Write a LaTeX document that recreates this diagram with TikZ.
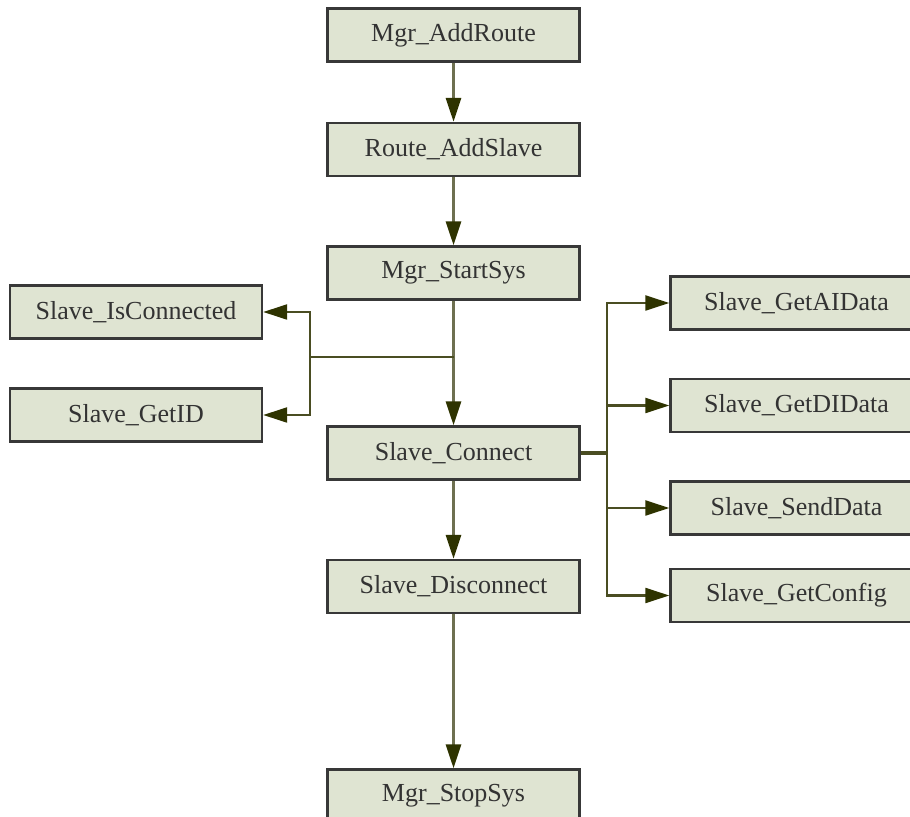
\documentclass[tikz,border=0pt]{standalone}
\usepackage{fontspec}
\setmainfont{Liberation Serif}
\usetikzlibrary{arrows.meta}
\definecolor{boxfill}{HTML}{DFE4D2}
\definecolor{boxline}{HTML}{383838}
\definecolor{linkline}{HTML}{6E7050}
\definecolor{tipcol}{HTML}{2E3300}
\definecolor{branchline}{HTML}{4A4D22}
\begin{document}
\begin{tikzpicture}[x=0.5pt,y=-0.5pt,
  func/.style={draw=boxline, fill=boxfill, line width=1.2pt, minimum width=126pt, minimum height=26.5pt,
    inner sep=0pt, font=\fontsize{13}{15}\selectfont, text=black!80},
  link/.style={draw=linkline, line width=1.5pt, -{Triangle[length=12pt,width=7.5pt,color=tipcol]}},
  branch/.style={draw=branchline, line width=1.1pt}]
\useasboundingbox (0,0) rectangle (910,817);
\clip (0,0) rectangle (910,817);
\node[func] (addroute) at (453.5,35) {Mgr\_AddRoute};
\node[func] (addslave) at (453.5,149.5) {Route\_AddSlave};
\node[func] (startsys) at (453.5,273) {Mgr\_StartSys};
\node[func] (connect) at (453.5,453) {Slave\_Connect};
\node[func] (disconnect) at (453.5,586.5) {Slave\_Disconnect};
\node[func] (stopsys) at (453.5,796) {Mgr\_StopSys};
\node[func] (isconn) at (136,312) {Slave\_IsConnected};
\node[func] (getid) at (136,415) {Slave\_GetID};
\node[func] (getai) at (796.5,303) {Slave\_GetAIData};
\node[func] (getdi) at (796.5,405.5) {Slave\_GetDIData};
\node[func] (senddata) at (796.5,508) {Slave\_SendData};
\node[func] (getconfig) at (796.5,595.5) {Slave\_GetConfig};

\coordinate (ljoin) at (453.5,357);
\coordinate (lsplit) at (310,357);
\coordinate (rsplit) at (607,453);

\path[link] (addroute) -- (addslave);
\path[link] (addslave) -- (startsys);
\path[link] (startsys) -- (connect);
\path[link] (connect) -- (disconnect);
\path[link] (disconnect) -- (stopsys);

\path[branch] (ljoin) -- (lsplit);
\path[link,draw=branchline,line width=1.1pt] (lsplit) |- (isconn);
\path[link,draw=branchline,line width=1.1pt] (lsplit) |- (getid);

\path[branch,line width=2.2pt] (connect) -- (rsplit);
\path[link,draw=branchline,line width=1.1pt] (rsplit) |- (getai);
\path[link,draw=branchline,line width=1.1pt] (rsplit) |- (getdi);
\path[link,draw=branchline,line width=1.1pt] (rsplit) |- (senddata);
\path[link,draw=branchline,line width=1.1pt] (rsplit) |- (getconfig);
\end{tikzpicture}
\end{document}
